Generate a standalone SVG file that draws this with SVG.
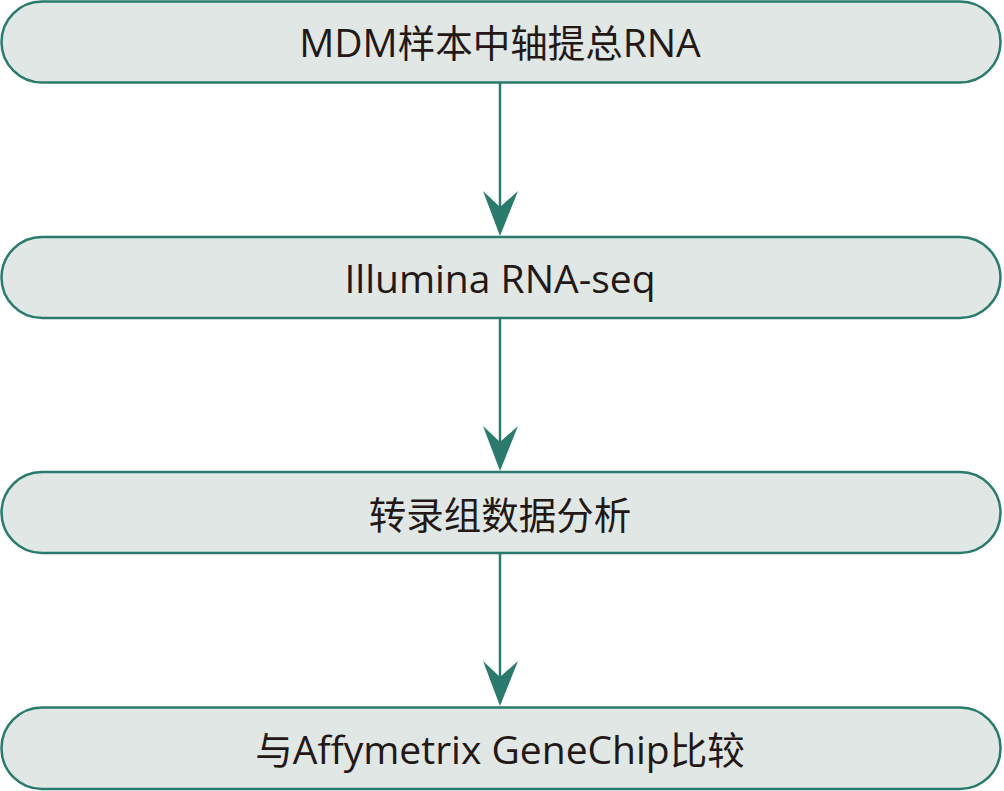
<svg xmlns="http://www.w3.org/2000/svg" width="1004" height="791" viewBox="0 0 1004 791">
<style>
.box{fill:#e0e7e4;stroke:#2a7b6e;stroke-width:2.5}
.lbl{font-family:"Open Sans","Noto Sans CJK SC",sans-serif;font-size:39px;fill:#231815;text-anchor:middle}
.cjk{font-family:"Noto Sans CJK SC",sans-serif;font-size:37.5px}
.ln{stroke:#2a7b6e;stroke-width:2.5;fill:none}
.ah{fill:#2a7b6e}
</style>
<rect width="1004" height="791" fill="#ffffff"/>
<g id="connectors">
<line class="ln" x1="500" y1="83" x2="500" y2="230"/>
<path class="ah" d="M500,236 L483,191 L500,207 L518,191 Z"/>
<line class="ln" x1="500" y1="319" x2="500" y2="465"/>
<path class="ah" d="M500,471 L483,426 L500,442 L518,426 Z"/>
<line class="ln" x1="500" y1="554" x2="500" y2="700"/>
<path class="ah" d="M500,706 L483,661 L500,677 L518,661 Z"/>
</g>
<g id="n1">
<rect class="box" x="1.5" y="1.5" width="999" height="81" rx="40.5"/>
<text class="lbl" x="500" y="57">MDM<tspan class="cjk">样本中轴提总</tspan>RNA</text>
</g>
<g id="n2">
<rect class="box" x="1.5" y="237" width="999" height="81" rx="40.5"/>
<text class="lbl" x="500" y="293">Illumina RNA-seq</text>
</g>
<g id="n3">
<rect class="box" x="1.5" y="472" width="999" height="81" rx="40.5"/>
<text class="lbl cjk" x="500" y="529">转录组数据分析</text>
</g>
<g id="n4">
<rect class="box" x="1.5" y="707.5" width="999" height="81.5" rx="40.5"/>
<text class="lbl" x="500" y="764"><tspan class="cjk">与</tspan>Affymetrix GeneChip<tspan class="cjk">比较</tspan></text>
</g>
</svg>
